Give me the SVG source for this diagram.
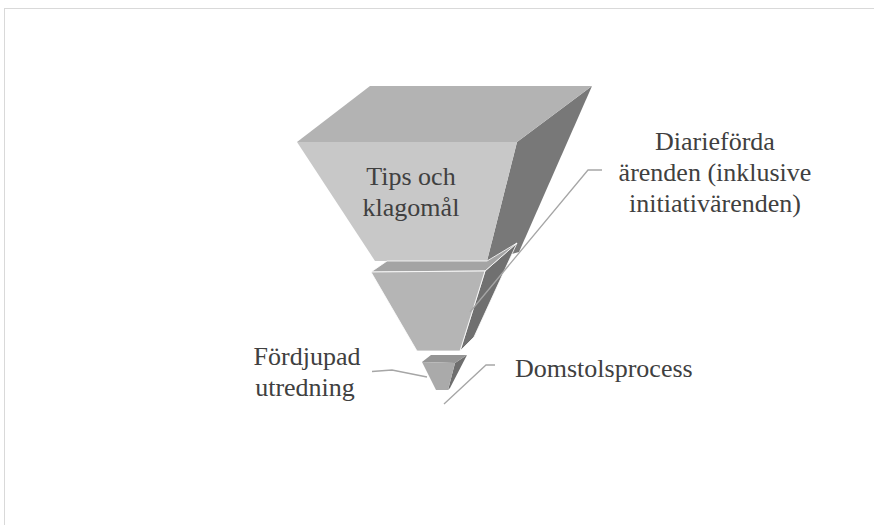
<svg xmlns="http://www.w3.org/2000/svg" width="874" height="525" viewBox="0 0 874 525">
<style>
.lbl{font-family:"Liberation Serif","Times New Roman",serif;font-size:26px;fill:#404040}
.con{fill:none;stroke:#a6a6a6;stroke-width:1.3}
.edge{stroke:#ffffff;stroke-width:0.8;stroke-linejoin:round}
</style>
<rect x="0" y="0" width="874" height="525" fill="#ffffff"/>
<rect x="4.5" y="8.5" width="900" height="600" fill="#ffffff" stroke="#d9d9d9" stroke-width="1"/>
<g id="node-tips">
<polygon points="517,142 592,86 519,252 487,261" fill="#787878"/>
<polygon points="297,142 370,86 592,86 517,142" fill="#b3b3b3"/>
<polygon points="297,142 517,142 487,261 375,261" fill="#c8c8c8"/>
<text class="lbl" text-anchor="middle" x="411" y="185">Tips och</text>
<text class="lbl" text-anchor="middle" x="411" y="216">klagomål</text>
</g>
<g id="node-diarieforda">
<polygon class="edge" points="485,271 517,243 474,337 460,351" fill="#707070"/>
<polygon class="edge" points="371,272 387,261 487,261 517,243 485,271" fill="#a4a4a4"/>
<polygon class="edge" points="371,272 485,271 460,351 417,351" fill="#b5b5b5"/>
<text class="lbl" text-anchor="middle" x="715" y="150">Diarieförda</text>
<text class="lbl" text-anchor="middle" x="715" y="181">ärenden (inklusive</text>
<text class="lbl" text-anchor="middle" x="715" y="212">initiativärenden)</text>
</g>
<g id="node-fordjupad">
<polygon points="455,363 467,355 450,388 448,390" fill="#6e6e6e"/>
<polygon points="422,362 431,355 467,355 455,363" fill="#959595"/>
<polygon points="422,362 455,363 448,390 436,390" fill="#aaaaaa"/>
<text class="lbl" text-anchor="middle" x="307" y="365">Fördjupad</text>
<text class="lbl" text-anchor="middle" x="305" y="396">utredning</text>
</g>
<g id="node-domstol">
<text class="lbl" x="515" y="377">Domstolsprocess</text>
</g>
<g id="connectors">
<polyline class="con" points="602,170 588,170 470,312"/>
<polyline class="con" points="372,371.5 392,370 427,377"/>
<polyline class="con" points="495,365 486,365 444,404"/>
</g>
</svg>
